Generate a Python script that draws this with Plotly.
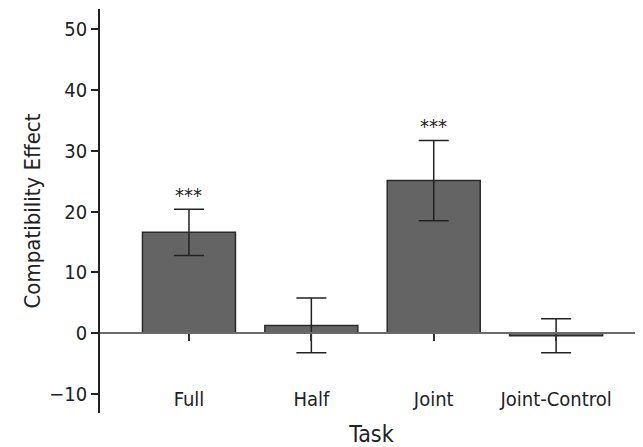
import plotly.graph_objects as go

categories = ["Full", "Half", "Joint", "Joint-Control"]
effect_means = [16.6, 1.3, 25.1, -0.4]
effect_errors = [3.8, 4.5, 6.6, 2.8]
significance = ["***", "", "***", ""]
y_tick_values = [-10, 0, 10, 20, 30, 40, 50]

FONT = "DejaVu Sans Condensed, Liberation Sans Narrow, Liberation Sans, sans-serif"
y_lo, y_hi = -13.1, 53.3

fig = go.Figure()
fig.add_trace(go.Bar(
    x=categories, y=effect_means, width=0.76,
    marker=dict(color="#646464", line=dict(color="#2a2a2a", width=1.5)),
    error_y=dict(type="data", array=effect_errors, visible=True,
                 color="#222222", thickness=1.5, width=15),
    showlegend=False,
))

for cat, m, e, s in zip(categories, effect_means, effect_errors, significance):
    if s:
        fig.add_annotation(x=cat, y=m + e, text=s, showarrow=False,
                           yanchor="bottom", yshift=0,
                           font=dict(family=FONT, size=20, color="#222222"))

fig.update_layout(
    width=635, height=439,
    margin=dict(l=92, r=0, t=1, b=34),
    paper_bgcolor="white", plot_bgcolor="white",
    font=dict(family=FONT, size=20, color="#222222"),
    xaxis=dict(
        type="category", range=[-0.727, 3.71], automargin=False,
        anchor="free", position=(0 - y_lo) / (y_hi - y_lo),
        showline=True, linecolor="#6a6a6a", linewidth=1.5,
        ticks="outside", ticklen=7, tickcolor="#333333", tickwidth=1.5,
        ticklabelstandoff=41, showgrid=False,
        tickfont=dict(size=20),
        title=dict(text="Task", font=dict(size=23), standoff=17),
    ),
    yaxis=dict(
        range=[y_lo, y_hi], tickvals=y_tick_values, automargin=False,
        showline=True, linecolor="#222222", linewidth=1.5,
        ticks="outside", ticklen=7, tickcolor="#222222", tickwidth=1.5,
        showgrid=False, zeroline=False,
        tickfont=dict(size=20),
        title=dict(text="Compatibility Effect", font=dict(size=22), standoff=3),
    ),
)

fig.write_html("out.html")
